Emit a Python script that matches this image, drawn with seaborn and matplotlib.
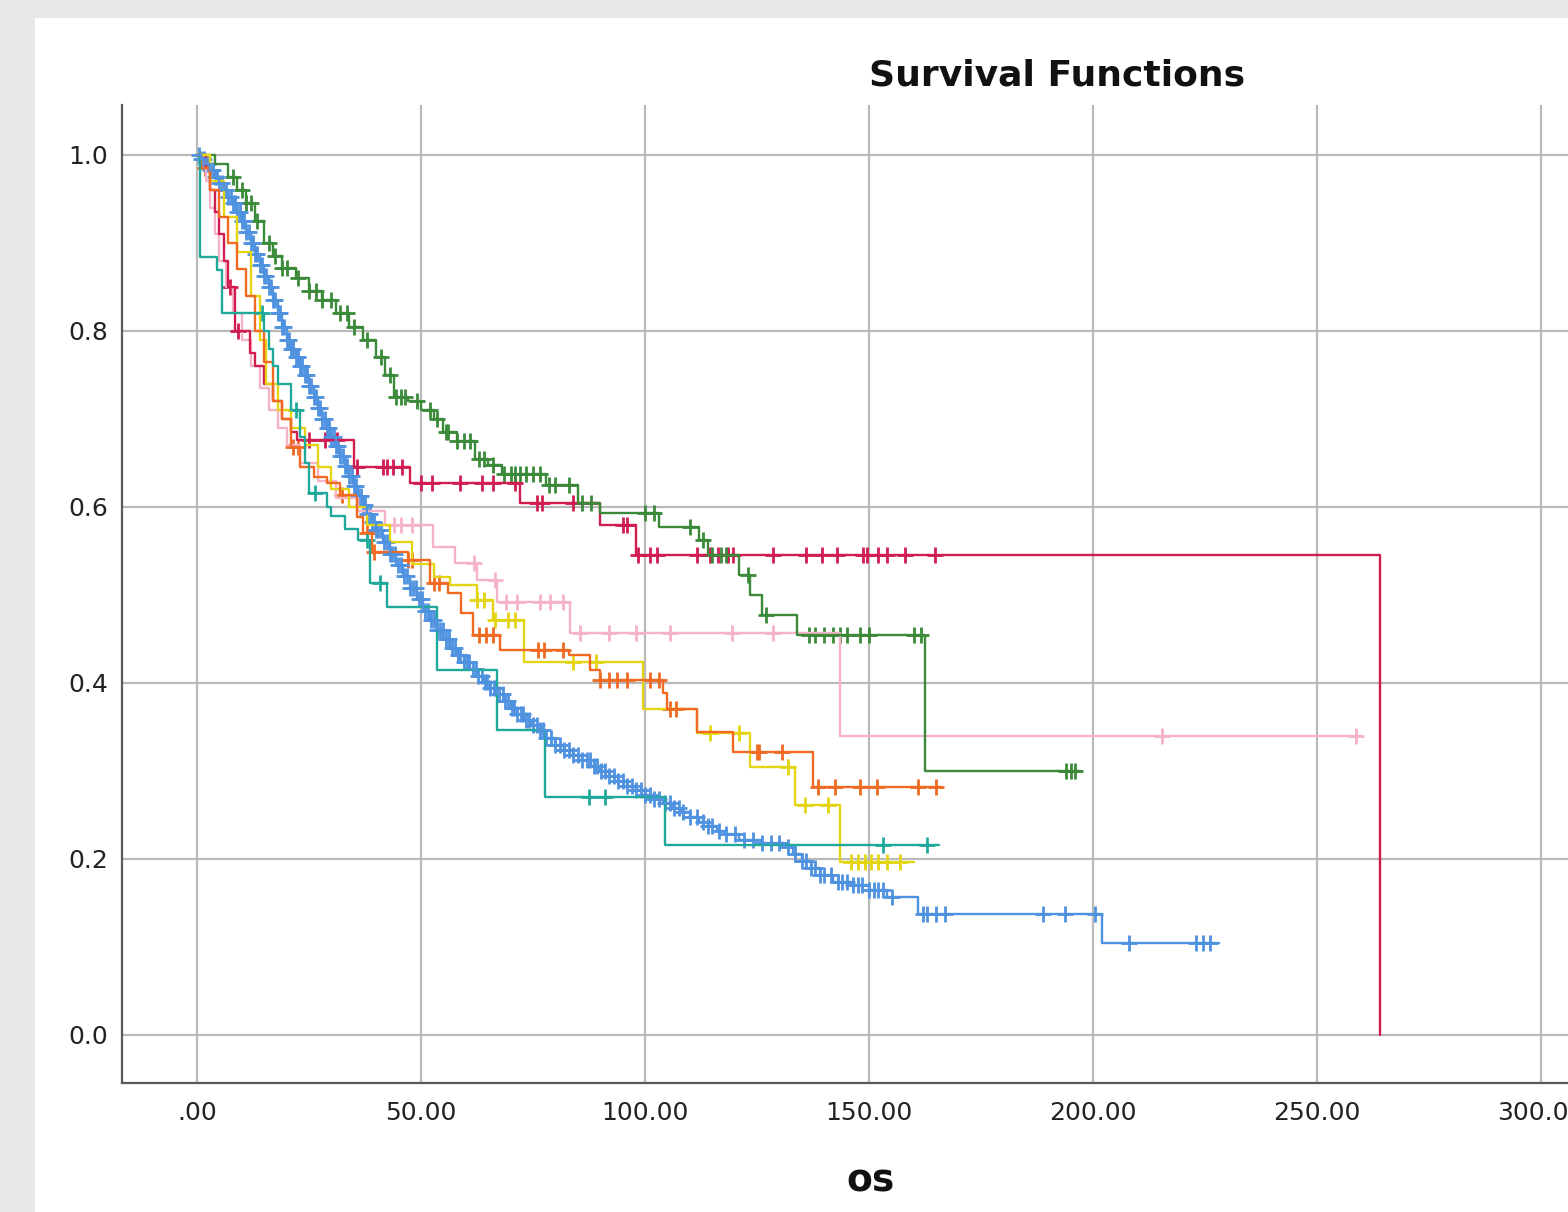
import numpy as np
import pandas as pd
import matplotlib
matplotlib.use("Agg")
import matplotlib.pyplot as plt
from matplotlib.patches import Rectangle
import seaborn as sns

# ---------------------------------------------------------------------------
# Kaplan-Meier step data (time, survival) per group
# ---------------------------------------------------------------------------
pink_t = [0, 2, 3, 4, 5, 6.5, 8, 10, 12, 14, 16, 18, 20, 23, 27, 31, 36, 42, 52.7, 57.6, 62.5, 67, 83.3, 143.5]
pink_s = [1.0, .97, .94, .91, .88, .85, .82, .79, .76, .735, .71, .69, .67, .65, .63, .61, .595, .58, .555, .536, .517, .492, .457, .34]
pink_end = 260
pink_cens = [44, 45.5, 48, 61.8, 66.5, 69, 71.4, 76.6, 78.8, 81.7, 85.5, 92, 98, 105.6, 119.4, 128.6, 215.4, 258.7]

red_t = [0, 2, 3, 4, 5, 6, 7, 8.5, 11.8, 13, 15, 17, 19, 21, 22.3, 35, 47.5, 72, 90, 98, 264]
red_s = [1.0, .985, .96, .935, .91, .88, .85, .80, .775, .76, .74, .72, .70, .685, .676, .645, .627, .605, .58, .5455, 0.0]
red_end = 264
red_cens = [7.4, 9.2, 25, 28.6, 31.3, 35.7, 41.5, 42.4, 43.8, 45.8, 50, 52.5, 58.7, 63.6, 66, 71,
            75.9, 77, 84, 95, 96, 98.4, 101, 102.7, 111.6, 114.5, 116.3, 118.5, 119.6, 128.6,
            136, 139.5, 142.9, 148.7, 149.5, 152, 154, 158, 164.7]

green_t = [0, 4, 7, 9, 11, 13, 15, 17, 19, 22, 25, 28, 31, 34, 37, 40, 42, 44, 47, 50, 53, 55, 58,
           62, 65, 68, 78, 85, 90, 103, 112, 114, 121, 123.5, 126, 134, 162.5]
green_s = [1.0, .99, .975, .96, .945, .925, .90, .885, .872, .86, .845, .835, .82, .805, .79, .77, .75,
           .725, .72, .71, .70, .685, .675, .655, .648, .638, .625, .605, .593, .577, .562, .545, .523,
           .50, .477, .4545, .30]
green_end = 197
green_cens = [8, 10, 11, 12, 13.5, 16, 17.5, 19, 20, 22.5, 25, 26.5, 28, 30, 32, 33.5, 35, 38, 41,
              43, 44.5, 45.5, 46.5, 49, 52, 53.5, 55.5, 56, 58, 59.5, 61, 63, 64, 66, 68.5, 70, 71,
              72, 73.5, 75, 76.5, 78.5, 80, 83, 86, 88, 100, 102, 110, 113, 115, 117, 118, 123,
              127, 136.5, 138, 140, 142, 143.5, 145, 148, 150, 160, 161.5, 194, 195, 196]

yellow_t = [0, 3, 6, 9, 12, 14, 15.5, 18, 21, 24, 27, 30, 34, 38, 43, 48, 53, 56.5, 62.5, 66, 73,
            99.6, 111.6, 123.4, 133.5, 143.5]
yellow_s = [1.0, .97, .93, .89, .84, .79, .74, .71, .69, .67, .645, .62, .60, .58, .56, .535, .52,
            .511, .494, .471, .424, .37, .343, .305, .261, .197]
yellow_end = 160
yellow_cens = [62.5, 64, 66.5, 69.5, 71, 84, 89, 114.5, 121, 132, 135.7, 140.8, 146, 147.5, 149,
               150.5, 152, 154, 157]

orange_t = [0, 1, 3, 5, 7, 9, 11, 13, 15, 17, 19, 21, 23, 26, 29, 32, 35.7, 37, 39, 47, 52, 56, 59,
            61.6, 67.6, 83, 87.7, 90, 104, 105, 111.6, 119.6, 137.5]
orange_s = [1.0, .985, .96, .93, .90, .87, .84, .80, .765, .72, .70, .668, .645, .634, .627, .614,
            .589, .57, .549, .54, .514, .502, .48, .4545, .4375, .432, .415, .403, .389, .37, .344,
            .322, .282]
orange_end = 166
orange_cens = [1.8, 21.5, 22.5, 32.4, 38, 39.5, 47, 48, 53, 54, 63, 64.5, 66, 76, 77.5, 81.7, 90, 92,
               93.7, 96, 101, 103, 105.5, 107, 125, 125.5, 130.5, 138.6, 142.4, 148, 151.8, 161, 165]

teal_t = [0, 0.7, 4.5, 5.5, 15, 16, 17, 18, 21, 23, 24, 25, 29, 30, 33, 36, 38.6, 42.4, 53.6, 67,
          77.7, 104.5]
teal_s = [1.0, .884, .869, .82, .80, .78, .76, .74, .71, .68, .65, .616, .60, .59, .575, .5625, .514,
          .486, .415, .347, .27, .216]
teal_end = 165.5
teal_cens = [14.5, 22, 26.3, 38, 40.8, 87.5, 91, 153, 163]

blue_t = [0, 1, 2, 3, 4, 5, 6, 7, 8, 9, 10, 11, 12, 13, 14, 15, 16, 17, 18, 19, 20, 21, 22, 23, 24,
          25, 26, 27, 28, 29, 30, 31, 32, 33, 34, 35, 36, 37, 38, 39, 40, 41.5, 43, 44.5, 46, 47.5,
          49, 50.5, 52, 53.5, 55, 56.5, 58, 59.5, 61, 62.5, 64, 65.5, 67, 68.5, 70, 71.5, 73, 74.5,
          76, 78, 80, 82, 84, 86, 88, 90, 92, 94, 96, 98, 100, 102, 104, 106, 108, 110, 112, 114,
          116, 118, 121, 126, 131, 133, 135, 137, 139, 142, 146, 150, 154, 161, 202]
blue_s = [1.0, .995, .99, .983, .975, .968, .96, .952, .945, .935, .925, .913, .90, .888, .875, .862,
          .85, .835, .82, .805, .79, .78, .77, .76, .75, .737, .725, .712, .70, .69, .68, .669, .658,
          .646, .635, .624, .613, .602, .592, .583, .574, .56, .547, .534, .521, .508, .495, .482,
          .472, .46, .45, .44, .432, .424, .416, .408, .401, .394, .387, .38, .372, .365, .358, .352,
          .346, .338, .33, .324, .318, .312, .306, .30, .294, .289, .283, .278, .273, .268, .264,
          .258, .253, .248, .242, .237, .232, .228, .222, .218, .214, .206, .198, .19, .182, .174,
          .170, .165, .157, .138, .1045]
blue_end = 228
blue_cens = [0.5, 1, 1.5, 2, 2.5, 3, 3.5, 4, 4.5, 5, 5.5, 6, 6.5, 7, 7.5, 8, 8.5, 9, 9.5, 10, 10.5,
             11, 11.5, 12, 12.5, 13, 13.5, 14, 14.5, 15, 15.5, 16, 16.5, 17, 17.5, 18, 18.5, 19,
             19.5, 20, 20.5, 21, 21.5, 22, 22.5, 23, 23.5, 24, 24.5, 25, 25.5, 26, 26.5, 27, 27.5,
             28, 28.5, 29, 29.5, 30, 30.5, 31, 31.5, 32, 32.5, 33, 33.5, 34, 34.5, 35, 35.5, 36,
             36.5, 37, 37.5, 38, 38.5, 39, 39.5, 40, 40.5, 41, 41.7, 42.3, 43, 43.6, 44.2, 44.8,
             45.5, 46.2, 46.8, 47.5, 48.2, 48.8, 49.5, 50.2, 50.8, 51.5, 52.2, 52.8, 53.5, 54.2,
             54.8, 55.5, 56.2, 56.8, 57.5, 58.2, 58.8, 59.5, 60.2, 60.8, 61.5, 62.2, 62.8, 63.5,
             64.2, 64.8, 65.5, 66.2, 66.8, 67.5, 68.2, 68.8, 69.5, 70.2, 70.8, 71.5, 72.2, 72.8,
             73.5, 74.2, 75, 75.8, 76.5, 77.3, 78, 79, 80, 81, 82, 83, 84, 85, 86, 87, 87.8, 88.5,
             89.3, 90.2, 91, 92, 93, 94, 95, 96, 97, 98, 99, 100, 101, 102, 103, 104.5, 105.5,
             106.5, 107.5, 108.5, 110, 111.5, 113, 114, 115, 116.5, 118, 120, 122, 124, 126, 128,
             130, 132, 133.5, 135, 136, 137, 138, 139, 140, 141.5, 143, 144, 145, 146.5, 147.5,
             148.5, 150, 151, 152, 153, 155, 162, 163, 165, 167, 188.8, 193.75, 200.4, 208, 223,
             224.6, 226]

x_ticks = [0, 50, 100, 150, 200, 250, 300]
x_tick_labels = [".00", "50.00", "100.00", "150.00", "200.00", "250.00", "300.00"]
y_ticks = [0.0, 0.2, 0.4, 0.6, 0.8, 1.0]
y_tick_labels = ["0.0", "0.2", "0.4", "0.6", "0.8", "1.0"]

palette = {
    "pink":   "#f5b3c8",
    "red":    "#d11c50",
    "green":  "#3a8a3a",
    "yellow": "#e3d512",
    "orange": "#f06a24",
    "teal":   "#1fa99b",
    "blue":   "#4f92e0",
}

groups = [
    ("pink", pink_t, pink_s, pink_end, pink_cens),
    ("red", red_t, red_s, red_end, red_cens),
    ("green", green_t, green_s, green_end, green_cens),
    ("yellow", yellow_t, yellow_s, yellow_end, yellow_cens),
    ("orange", orange_t, orange_s, orange_end, orange_cens),
    ("teal", teal_t, teal_s, teal_end, teal_cens),
    ("blue", blue_t, blue_s, blue_end, blue_cens),
]


def step_frame(name, t, s, end):
    t, s = list(t), list(s)
    if end > t[-1]:
        t.append(end); s.append(s[-1])
    return pd.DataFrame({"group": name, "time": t, "surv": s})


def censor_frame(name, t, s, cens):
    idx = np.searchsorted(np.asarray(t), np.asarray(cens), side="right") - 1
    return pd.DataFrame({"group": name, "time": cens, "surv": np.asarray(s)[idx]})


steps = pd.concat([step_frame(n, t, s, e) for n, t, s, e, _ in groups], ignore_index=True)
cens = pd.concat([censor_frame(n, t, s, c) for n, t, s, _, c in groups], ignore_index=True)

# ---------------------------------------------------------------------------
# figure
# ---------------------------------------------------------------------------
sns.set_style("white")
plt.rcParams["font.family"] = ["DejaVu Sans"]

W, H = 1568, 1212
fig = plt.figure(figsize=(W / 100, H / 100), dpi=100, facecolor="#e8e8e8")
fig.patches.append(Rectangle((35 / W, 0), 1, (H - 18) / H, transform=fig.transFigure,
                             facecolor="white", edgecolor="none", zorder=-10))

ax = fig.add_axes([122 / W, (H - 1083) / H, (1586 - 122) / W, (1083 - 105) / H])
ax.set_zorder(5)
ax.set_facecolor("white")

for name, t, s, e, c in groups:
    sns.lineplot(data=steps[steps.group == name], x="time", y="surv", color=palette[name],
                 drawstyle="steps-post", estimator=None, lw=1.7, ax=ax, legend=False)
    sns.scatterplot(data=cens[cens.group == name], x="time", y="surv", color=palette[name],
                    marker="+", s=130, linewidth=2.0, ax=ax, legend=False)

ax.set_xlim(-16.74, 310.0)
ax.set_ylim(-0.0546, 1.0568)
ax.set_xticks(x_ticks, x_tick_labels)
ax.set_yticks(y_ticks, y_tick_labels)
ax.tick_params(length=0, labelsize=18, colors="#222222")
ax.tick_params(axis="x", pad=13)
ax.tick_params(axis="y", pad=10)
ax.grid(True, color="#b9b9b9", lw=1.6)
ax.set_axisbelow(True)
for sp in ("top", "right"):
    ax.spines[sp].set_visible(False)
for sp in ("left", "bottom"):
    ax.spines[sp].set_color("#5a5a5a")
    ax.spines[sp].set_linewidth(1.6)
ax.set_xlabel(""); ax.set_ylabel("")

fig.text(1057 / W, 1 - 75 / H, "Survival Functions", ha="center", va="center",
         fontsize=26, fontweight="bold", color="#111111")
fig.text(870 / W, 1 - 1182 / H, "os", ha="center", va="center",
         fontsize=27, fontweight="bold", color="#111111")

fig.savefig("out.png", dpi=100, facecolor=fig.get_facecolor())
plt.close(fig)
